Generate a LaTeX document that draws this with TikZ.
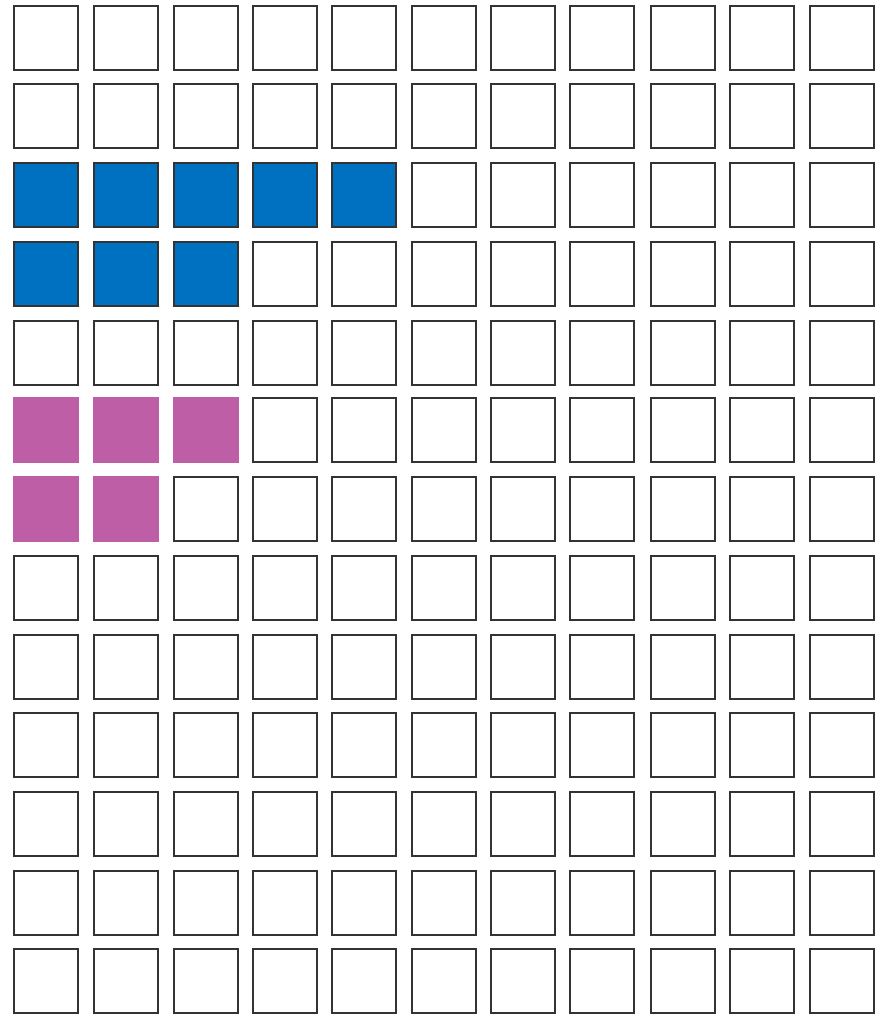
\documentclass[tikz,border=0pt]{standalone}
\definecolor{cellblue}{HTML}{0070C0}
\definecolor{cellpink}{HTML}{BD5EA6}
\definecolor{cellline}{HTML}{333333}
\tikzset{
  cell/.style={draw=cellline, line width=1.8pt, fill=white, minimum width=64.2pt, minimum height=64.2pt, inner sep=0pt, outer sep=0pt, anchor=north west},
  bluecell/.style={cell, fill=cellblue},
  pinkcell/.style={cell, draw=none, fill=cellpink, minimum width=66pt, minimum height=66pt},
}
\begin{document}
\begin{tikzpicture}[x=1pt,y=-1pt]
\useasboundingbox (0,0) rectangle (883,1016);
\foreach \y [count=\r] in {5,83,162,241,320,397,476,555,634,712,791,870,948} {
  \foreach \x [count=\c] in {13,93,173,252,331,411,490,569,650,729,809} {
    \pgfmathtruncatemacro{\kind}{((\r==3 && \c<=5) || (\r==4 && \c<=3)) ? 1 : (((\r==6 && \c<=3) || (\r==7 && \c<=2)) ? 2 : 0)}
    \ifcase\kind
      \node[cell] (n-\r-\c) at (\x+0.9,\y+0.9) {};
    \or
      \node[bluecell] (n-\r-\c) at (\x+0.9,\y+0.9) {};
    \or
      \node[pinkcell] (n-\r-\c) at (\x,\y) {};
    \fi
  }
}
\end{tikzpicture}
\end{document}
